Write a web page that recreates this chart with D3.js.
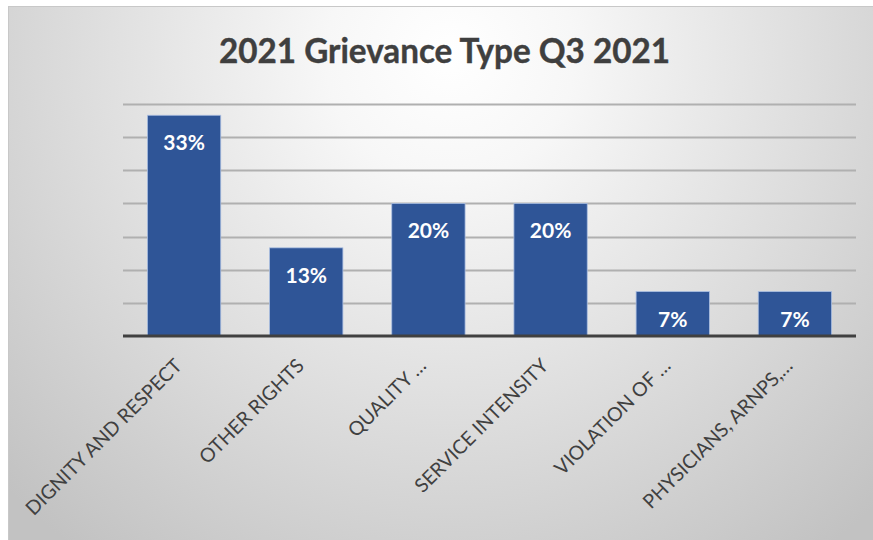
<!DOCTYPE html>
<html>
<head>
<meta charset="utf-8">
<script src="https://cdn.jsdelivr.net/npm/d3@7"></script>
<style>
  html, body { margin: 0; padding: 0; background: #ffffff; }
  svg { display: block; }
</style>
</head>
<body>
<svg id="chart" width="873" height="540"></svg>
<script>
// ---- data ----
const categories = ["DIGNITY AND RESPECT", "OTHER RIGHTS", "QUALITY …", "SERVICE INTENSITY", "VIOLATION OF …", "PHYSICIANS, ARNPS,…"];
const values = [33.3, 13.3, 20.0, 20.0, 6.7, 6.7];
const valueLabels = ["33%", "13%", "20%", "20%", "7%", "7%"];
const gridTicks = [5, 10, 15, 20, 25, 30, 35];
const titleText = "2021 Grievance Type Q3 2021";

const svg = d3.select("#chart");
const W = 873, H = 540;
const margin = { left: 123, right: 17, top: 104, bottom: 204 };
const plotW = W - margin.left - margin.right;
const axisY = H - margin.bottom;

// background with radial gradient
const defs = svg.append("defs");
const grad = defs.append("radialGradient")
  .attr("id", "bg").attr("gradientUnits", "userSpaceOnUse")
  .attr("cx", 450).attr("cy", 55).attr("r", 620);
grad.append("stop").attr("offset", "0").attr("stop-color", "#ffffff");
grad.append("stop").attr("offset", "0.2").attr("stop-color", "#f7f7f7");
grad.append("stop").attr("offset", "1").attr("stop-color", "#c2c2c2");

svg.append("rect").attr("x", 8.5).attr("y", 6.5).attr("width", W).attr("height", H)
  .attr("fill", "url(#bg)").attr("stroke", "#c8c8c8").attr("stroke-width", 1);

const x = d3.scaleBand().domain(categories)
  .range([margin.left, margin.left + plotW])
  .paddingInner(0.4).paddingOuter(0.2);
const y = d3.scaleLinear().domain([0, 35]).range([axisY, margin.top]);

// gridlines
svg.append("g").selectAll("line").data(gridTicks).join("line")
  .attr("x1", margin.left).attr("x2", margin.left + plotW)
  .attr("y1", d => Math.round(y(d)) + 0.5).attr("y2", d => Math.round(y(d)) + 0.5)
  .attr("stroke", "#b0b0b0").attr("stroke-width", 2);

// bars
svg.append("g").selectAll("rect").data(values).join("rect")
  .attr("x", (d, i) => x(categories[i]))
  .attr("y", d => y(d))
  .attr("width", x.bandwidth())
  .attr("height", d => axisY - y(d))
  .attr("fill", "#2f5597")
  .attr("stroke", "#a9bde0").attr("stroke-width", 0.8);

// value labels
svg.append("g").selectAll("text").data(values).join("text")
  .attr("x", (d, i) => x(categories[i]) + x.bandwidth() / 2)
  .attr("y", d => y(d) + 35)
  .attr("text-anchor", "middle")
  .attr("font-family", "Lato, 'Open Sans', sans-serif")
  .attr("font-weight", "bold")
  .attr("font-size", 21)
  .attr("fill", "#ffffff")
  .text((d, i) => valueLabels[i]);

// x axis line
svg.append("line")
  .attr("x1", margin.left).attr("x2", margin.left + plotW)
  .attr("y1", axisY).attr("y2", axisY)
  .attr("stroke", "#404040").attr("stroke-width", 3);

// category labels, rotated
svg.append("g").selectAll("text").data(categories).join("text")
  .attr("transform", d => `translate(${x(d) + x.bandwidth() / 2 - 1},${axisY + 31}) rotate(-45)`)
  .attr("text-anchor", "end")
  .attr("font-family", "Lato, 'Open Sans', sans-serif")
  .attr("font-size", 19.5)
  .attr("fill", "#404040")
  .text(d => d);

// title
const title = svg.append("text")
  .attr("x", 444.5).attr("y", 63)
  .attr("text-anchor", "middle")
  .attr("font-family", "Lato, 'Open Sans', sans-serif")
  .attr("font-weight", "bold")
  .attr("font-size", 34)
  .attr("fill", "#3f3f3f")
  .attr("stroke", "#3f3f3f").attr("stroke-width", 0.4)
  .text(titleText);
const tl = title.node().getComputedTextLength();
if (Math.abs(tl - 451) > 2) title.attr("textLength", 451).attr("lengthAdjust", "spacingAndGlyphs");
</script>
</body>
</html>
